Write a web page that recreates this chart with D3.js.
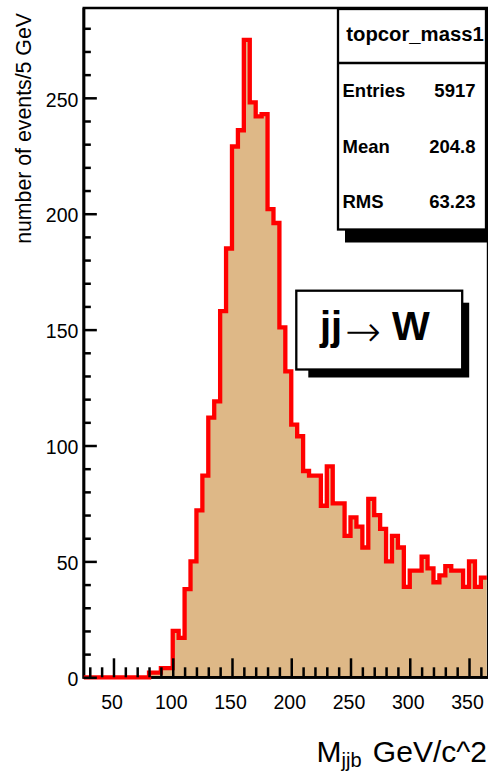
<!DOCTYPE html>
<html>
<head>
<meta charset="utf-8">
<script src="https://cdn.jsdelivr.net/npm/d3@7"></script>
<style>
  html, body { margin: 0; padding: 0; background: #fff; }
  svg { display: block; }
  text { font-family: "Liberation Sans", Arial, Helvetica, sans-serif; }
</style>
</head>
<body>
<svg id="chart" width="488" height="773"></svg>
<script>
// ---- histogram data: M_jjb, 5 GeV bins starting at 25 GeV ----
const binStart = 25;
const binWidth = 5;
const counts = [
  0, 0, 0, 0, 0, 0, 0, 0, 0, 0, 0,          // 25 - 80
  2, 2, 4, 4,                               // 80 - 100
  20, 17, 38, 50, 72, 87,                   // 100 - 130
  112, 119, 158, 185, 229, 236,             // 130 - 160
  275, 248, 242, 243, 202, 196,             // 160 - 190
  151, 132, 109, 104, 89, 87,               // 190 - 220
  87, 74, 91, 75, 75, 61,                   // 220 - 250
  69, 65, 56, 77, 70, 64,                   // 250 - 280
  50, 61, 56, 39, 46, 46,                   // 280 - 310
  52, 47, 41, 44, 48, 46,                   // 310 - 340
  46, 39, 50, 39, 43                        // 340 - 365
];

const xRange = [25, 365];
const yMaxValue = 288.75;
const xMajorTicks = [50, 100, 150, 200, 250, 300, 350];
const xMinorTicks = [30, 40, 60, 70, 80, 90, 110, 120, 130, 140, 160, 170, 180, 190,
                     210, 220, 230, 240, 260, 270, 280, 290, 310, 320, 330, 340, 360];
const yMajorTicks = [0, 50, 100, 150, 200, 250];
const yMinorTicks = [10, 20, 30, 40, 60, 70, 80, 90, 110, 120, 130, 140, 160, 170, 180, 190,
                     210, 220, 230, 240, 260, 270, 280];

const histName = "topcor_mass1";
const statLabels = ["Entries", "Mean", "RMS"];
const statValues = ["5917", "204.8", "63.23"];
const yTitle = "number of events/5 GeV";

// ---- layout ----
const svg = d3.select("#chart");
const frame = { left: 83.85, right: 486.8, top: 8, bottom: 677.3 };
const fillColor = "#deb887";
const lineColor = "#ff0000";

const x = d3.scaleLinear().domain(xRange).range([frame.left, frame.right]);
const y = d3.scaleLinear().domain([0, yMaxValue]).range([frame.bottom, frame.top]);

const bins = counts.map((c, i) => ({
  lo: binStart + i * binWidth,
  hi: binStart + (i + 1) * binWidth,
  c
}));

// step points along the bin tops
const steps = [];
bins.forEach(b => { steps.push([b.lo, b.c]); steps.push([b.hi, b.c]); });

svg.append("defs").append("clipPath").attr("id", "plotClip")
  .append("rect")
  .attr("x", frame.left).attr("y", frame.top)
  .attr("width", frame.right - frame.left)
  .attr("height", frame.bottom - frame.top);

// thin right edge of the frame
svg.append("line")
  .attr("x1", 487.4).attr("x2", 487.4)
  .attr("y1", frame.top).attr("y2", frame.bottom)
  .attr("stroke", "#000").attr("stroke-width", 1.2);

// top, left and bottom frame edges
const frameEdges = `M${frame.right + 1.2},${frame.top}H${frame.left}V${frame.bottom}H${frame.right + 1.2}`;
svg.append("path")
  .attr("d", frameEdges)
  .attr("fill", "none").attr("stroke", "#000").attr("stroke-width", 2.7);

const histG = svg.append("g").attr("clip-path", "url(#plotClip)");

// filled area
histG.append("path")
  .datum(steps)
  .attr("fill", fillColor)
  .attr("d", d3.area().x(d => x(d[0])).y0(y(0)).y1(d => y(d[1])));

// redraw left and bottom edges over the fill
svg.append("path")
  .attr("d", `M${frame.left},${frame.top}V${frame.bottom}H${frame.right + 1.2}`)
  .attr("fill", "none").attr("stroke", "#000").attr("stroke-width", 2.7);

// red outline (rises from zero at the first bin, ends at the last bin top)
const outline = [[bins[0].lo, 0], ...steps];
svg.append("path")
  .datum(outline)
  .attr("fill", "none")
  .attr("stroke", lineColor)
  .attr("stroke-width", 4.3)
  .attr("stroke-linejoin", "miter")
  .attr("d", d3.line().x(d => x(d[0])).y(d => y(d[1])));

// ---- axes ----
const tickStroke = 2.5;
const labelSize = 19.5;

function styleAxis(g) {
  g.select(".domain").remove();
  g.selectAll(".tick line").attr("stroke", "#000").attr("stroke-width", tickStroke);
}

// x axis
const xMinorG = svg.append("g").attr("transform", `translate(0,${frame.bottom})`)
  .call(d3.axisBottom(x).tickValues(xMinorTicks).tickSizeInner(-10).tickSizeOuter(0).tickFormat(""));
styleAxis(xMinorG);

const xMajorG = svg.append("g").attr("transform", `translate(0,${frame.bottom})`)
  .call(d3.axisBottom(x).tickValues(xMajorTicks).tickSizeInner(-19).tickSizeOuter(0).tickPadding(18));
styleAxis(xMajorG);
xMajorG.selectAll(".tick text")
  .attr("font-size", labelSize)
  .attr("fill", "#000")
  .attr("dx", -2);

// y axis
const yMinorG = svg.append("g").attr("transform", `translate(${frame.left},0)`)
  .call(d3.axisLeft(y).tickValues(yMinorTicks).tickSizeInner(-7).tickSizeOuter(0).tickFormat(""));
styleAxis(yMinorG);

const yMajorG = svg.append("g").attr("transform", `translate(${frame.left},0)`)
  .call(d3.axisLeft(y).tickValues(yMajorTicks).tickSizeInner(-13).tickSizeOuter(0).tickPadding(5.5));
styleAxis(yMajorG);
yMajorG.selectAll(".tick text")
  .attr("font-size", labelSize)
  .attr("fill", "#000")
  .attr("dy", "0.42em");

// axis titles
svg.append("text")
  .attr("transform", "translate(30.5,13) rotate(-90)")
  .attr("text-anchor", "end")
  .attr("font-size", 21.3)
  .attr("fill", "#000")
  .text(yTitle);

const xTitle = svg.append("text")
  .attr("x", 487).attr("y", 761.7)
  .attr("text-anchor", "end")
  .attr("font-size", 30)
  .attr("fill", "#000");
xTitle.append("tspan").text("M");
xTitle.append("tspan").attr("font-size", 20).attr("dy", 5).text("jjb");
xTitle.append("tspan").attr("dy", -5).attr("dx", 3).text(" GeV/c^2");

// ---- statistics box ----
const stat = { x1: 338, x2: 486, y1: 9, y2: 229.5, sep: 63 };
svg.append("rect")
  .attr("x", stat.x1 + 7).attr("y", stat.y1 + 7)
  .attr("width", stat.x2 - stat.x1 + 6).attr("height", stat.y2 - stat.y1 + 6)
  .attr("fill", "#000");
svg.append("rect")
  .attr("x", stat.x1).attr("y", stat.y1)
  .attr("width", stat.x2 - stat.x1).attr("height", stat.y2 - stat.y1)
  .attr("fill", "#fff").attr("stroke", "#000").attr("stroke-width", 2.3);
svg.append("line")
  .attr("x1", stat.x1).attr("x2", stat.x2)
  .attr("y1", stat.sep).attr("y2", stat.sep)
  .attr("stroke", "#000").attr("stroke-width", 2.3);
svg.append("text")
  .attr("x", (stat.x1 + stat.x2) / 2 + 3).attr("y", 40.5)
  .attr("text-anchor", "middle")
  .attr("font-size", 20.3).attr("font-weight", "bold")
  .attr("fill", "#000")
  .text(histName);

const rowH = (stat.y2 - stat.sep) / statLabels.length;
statLabels.forEach((lab, i) => {
  const cy = stat.sep + rowH * (i + 0.5) + 6.5;
  svg.append("text")
    .attr("x", stat.x1 + 4.5).attr("y", cy)
    .attr("font-size", 18.5).attr("font-weight", "bold").attr("fill", "#000")
    .text(lab);
  svg.append("text")
    .attr("x", stat.x2 - 10.5).attr("y", cy)
    .attr("text-anchor", "end")
    .attr("font-size", 18.5).attr("font-weight", "bold").attr("fill", "#000")
    .text(statValues[i]);
});

// ---- process label box ----
const lbl = { x1: 296.3, x2: 462.2, y1: 290.7, y2: 369.5 };
svg.append("rect")
  .attr("x", lbl.x1 + 12).attr("y", lbl.y1 + 12)
  .attr("width", lbl.x2 - lbl.x1 - 5).attr("height", lbl.y2 - lbl.y1 - 4)
  .attr("fill", "#000");
svg.append("rect")
  .attr("x", lbl.x1).attr("y", lbl.y1)
  .attr("width", lbl.x2 - lbl.x1).attr("height", lbl.y2 - lbl.y1)
  .attr("fill", "#fff").attr("stroke", "#000").attr("stroke-width", 2.3);

const procG = svg.append("g").attr("fill", "#000");
procG.append("text")
  .attr("x", 320).attr("y", 340)
  .attr("font-size", 40).attr("font-weight", "bold")
  .text("jj");
procG.append("text")
  .attr("x", 345).attr("y", 346)
  .attr("font-size", 43)
  .attr("font-weight", 200)
  .style("font-family", "'DejaVu Sans', sans-serif")
  .text("\u2192");
procG.append("text")
  .attr("x", 392).attr("y", 340)
  .attr("font-size", 40).attr("font-weight", "bold")
  .text("W");
</script>
</body>
</html>
